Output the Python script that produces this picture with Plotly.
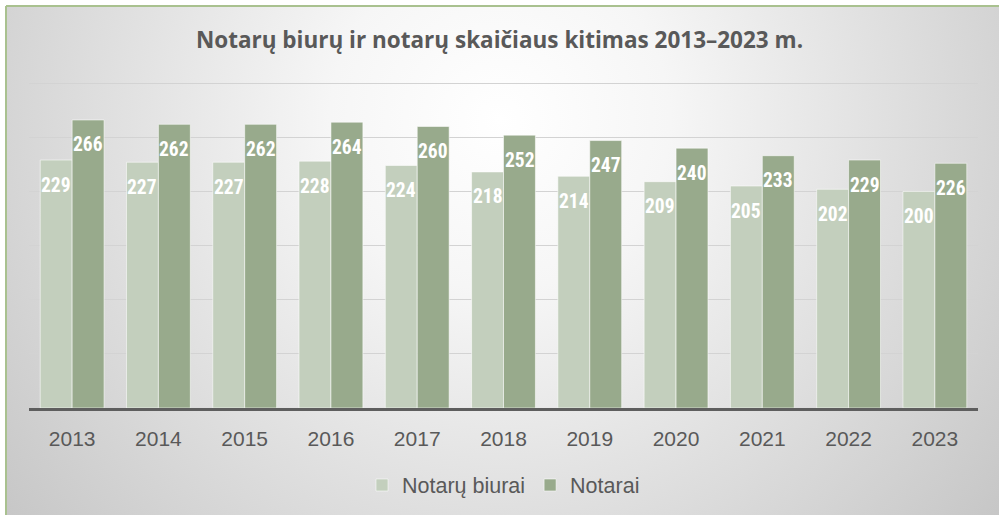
import base64
import plotly.graph_objects as go

years = ["2013", "2014", "2015", "2016", "2017", "2018", "2019", "2020", "2021", "2022", "2023"]
biurai = [229, 227, 227, 228, 224, 218, 214, 209, 205, 202, 200]
notarai = [266, 262, 262, 264, 260, 252, 247, 240, 233, 229, 226]

title_text = "Notarų biurų ir notarų skaičiaus kitimas 2013–2023 m."
series_names = ["Notarų biurai", "Notarai"]
colors = ["#C3CFBD", "#98AA8C"]

W, H = 999, 515
ML, MR, MT, MB = 29, 21, 81, 107
PW, PH = W - ML - MR, H - MT - MB

svg = f'''<svg xmlns="http://www.w3.org/2000/svg" width="{W}" height="{H}" viewBox="0 0 {W} {H}" preserveAspectRatio="none">
<defs><radialGradient id="g" gradientUnits="userSpaceOnUse" cx="500" cy="120" r="680">
<stop offset="0" stop-color="#FFFFFF"/><stop offset="0.25" stop-color="#F6F6F6"/><stop offset="1" stop-color="#C2C2C2"/></radialGradient></defs>
<rect x="0" y="0" width="{W}" height="{H}" fill="#FFFFFF"/>
<rect x="7" y="7" width="{W}" height="{H}" fill="url(#g)"/>
<line x1="6" y1="6" x2="6" y2="{H}" stroke="#A9C18F" stroke-width="2"/>
<line x1="6" y1="6" x2="{W}" y2="6" stroke="#A9C18F" stroke-width="2"/>
</svg>'''
src = "data:image/svg+xml;base64," + base64.b64encode(svg.encode()).decode()

fig = go.Figure()
for name, vals, col in zip(series_names, [biurai, notarai], colors):
    fig.add_trace(go.Bar(
        x=years, y=vals, name=name,
        marker=dict(color=col, line=dict(color="rgba(255,255,255,0.55)", width=1)),
        hoverinfo="x+y",
    ))

# data labels (x given as category index)
for i in range(len(years)):
    for vals, xs in [(biurai, -16), (notarai, 16)]:
        fig.add_annotation(x=i, y=vals[i], xref="x", yref="y", text=str(vals[i]),
                           showarrow=False, xshift=xs, yshift=-25, yanchor="middle",
                           font=dict(family="Roboto Condensed, Roboto", size=19.5, color="white",
                                     weight="bold"))

fig.update_layout(
    width=W, height=H,
    margin=dict(l=ML, r=MR, t=MT, b=MB, autoexpand=False),
    paper_bgcolor="white", plot_bgcolor="rgba(0,0,0,0)",
    barmode="group", bargap=0.26, bargroupgap=0,
    title=dict(text=f"<b>{title_text}</b>", x=0.5, xanchor="center", y=1 - 40 / H, yanchor="middle",
               font=dict(family="Open Sans", size=22.5, color="#595959")),
    legend=dict(orientation="h", x=0.5, xanchor="center", y=(PH - (485 - MT)) / PH, yanchor="middle",
                font=dict(family="Liberation Sans", size=21.5, color="#595959"),
                bgcolor="rgba(0,0,0,0)"),
    showlegend=True,
    images=[dict(source=src, xref="paper", yref="paper", x=-ML / PW, y=(PH + MT) / PH,
                 sizex=W / PW, sizey=H / PH, sizing="stretch", xanchor="left", yanchor="top",
                 layer="below")],
    font=dict(family="Liberation Sans", color="#595959"),
)
fig.update_xaxes(type="category", range=[-0.5, len(years) - 0.5], showline=True, linecolor="#5E5E5E",
                 linewidth=3, ticks="", ticklabelstandoff=10, automargin=False,
                 tickfont=dict(family="Liberation Sans", size=21, color="#595959"), showgrid=False)
fig.update_yaxes(range=[0, 302], tickvals=[50, 100, 150, 200, 250, 300], showgrid=True,
                 gridcolor="#D3D3D3", gridwidth=1,
                 showticklabels=False, zeroline=False, ticks="", automargin=False)

fig.write_html("out.html", config={"displayModeBar": False},
               post_script="document.body.style.margin='0';document.body.style.overflow='hidden';")
